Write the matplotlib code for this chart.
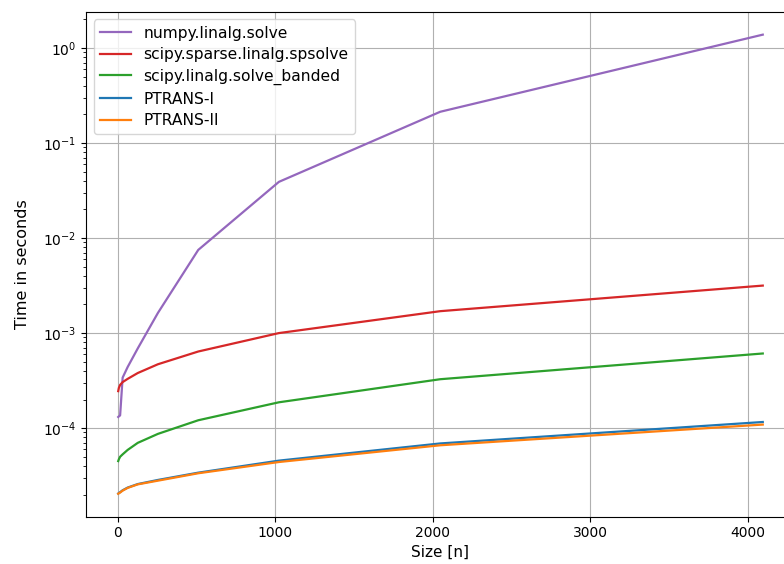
import matplotlib
matplotlib.use("Agg")
import matplotlib.pyplot as plt

# problem sizes
sizes = [4, 8, 16, 32, 64, 128, 256, 512, 1024, 2048, 4096]

# timings in seconds
t_numpy = [1.31e-4, 1.33e-4, 1.36e-4, 3.4e-4, 4.4e-4, 6.9e-4,
           1.63e-3, 7.5e-3, 3.9e-2, 2.13e-1, 1.38]
t_spsolve = [2.45e-4, 2.65e-4, 2.85e-4, 3.05e-4, 3.3e-4, 3.8e-4,
             4.7e-4, 6.4e-4, 1.0e-3, 1.7e-3, 3.16e-3]
t_banded = [4.5e-5, 4.7e-5, 5.0e-5, 5.3e-5, 5.9e-5, 7.0e-5,
            8.7e-5, 1.21e-4, 1.87e-4, 3.27e-4, 6.1e-4]
t_ptrans1 = [2.05e-5, 2.08e-5, 2.12e-5, 2.22e-5, 2.37e-5, 2.58e-5,
             2.85e-5, 3.4e-5, 4.55e-5, 6.9e-5, 1.16e-4]
t_ptrans2 = [2.04e-5, 2.06e-5, 2.1e-5, 2.2e-5, 2.35e-5, 2.56e-5,
             2.8e-5, 3.35e-5, 4.4e-5, 6.6e-5, 1.09e-4]

labels = ['numpy.linalg.solve', 'scipy.sparse.linalg.spsolve',
          'scipy.linalg.solve_banded', 'PTRANS-I', 'PTRANS-II']
colors = ['tab:purple', 'tab:red', 'tab:green', 'tab:blue', 'tab:orange']

fig = plt.figure(figsize=(7.84, 5.64), dpi=100)
ax = fig.add_axes([86 / 784, 47.3 / 564, 709 / 784, 505 / 564])

for times, lab, col in zip([t_numpy, t_spsolve, t_banded, t_ptrans1, t_ptrans2],
                           labels, colors):
    ax.plot(sizes, times, c=col, lw=1.6, label=lab)

ax.set_yscale('log')
ax.set_xticks([0, 1000, 2000, 3000, 4000])
ax.grid(True)
ax.set_xlabel('Size [n]', fontsize=11, labelpad=3)
ax.set_ylabel('Time in seconds', fontsize=11.5, labelpad=9)
ax.legend(loc='upper left', fontsize=11.2, labelspacing=0.42)

fig.savefig('out.png', dpi=100)
